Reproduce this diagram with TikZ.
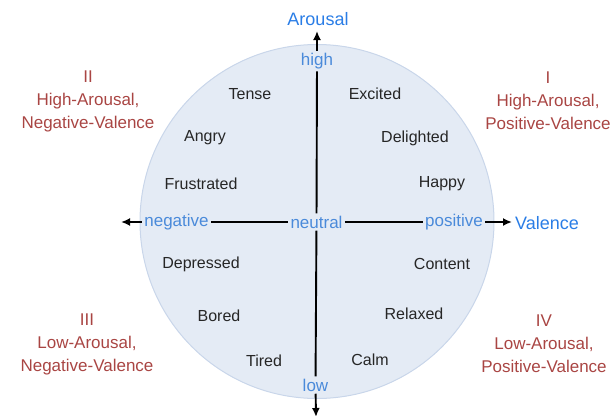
\documentclass[tikz,border=0pt]{standalone}
\usepackage{fontspec}
\setmainfont{Liberation Sans}
\usetikzlibrary{arrows.meta}
\usetikzlibrary{calc}
\tikzset{>=latex}
\definecolor{myblue}{HTML}{2A7DE6}
\definecolor{mylightblue}{HTML}{4A8ADA}
\definecolor{myred}{HTML}{A94543}
\definecolor{myfill}{HTML}{E4EBF5}
\definecolor{myedge}{HTML}{C9D6EA}
\colorlet{myword}{black!85}
\tikzstyle{myaxis}=[black,line width=1.9]
\tikzstyle{myarrow}=[myaxis,-{Latex[length=9,width=8]}]
\tikzstyle{myaxislabel}=[inner sep=0pt,font=\fontsize{18}{20}\selectfont,text=myblue]
\tikzstyle{mytick}=[inner sep=2.5pt,outer sep=0pt,font=\fontsize{17}{20}\selectfont,text=mylightblue]
\tikzstyle{myword}=[inner sep=1pt,font=\fontsize{16}{18}\selectfont,text=myword]
\tikzstyle{myquad}=[inner sep=1pt,align=center,font=\fontsize{17}{23}\selectfont,text=myred]

\begin{document}
\begin{tikzpicture}[x=1pt,y=-1pt]
  \useasboundingbox (0,0) rectangle (613,415);

  % circle
  \node[circle,draw=myedge,fill=myfill,line width=1,minimum size=354,inner sep=0pt] (C) at (317,221.5) {};

  % axis labels
  \node[myaxislabel,anchor=base] (arousal) at (318,25) {Arousal};
  \node[myaxislabel,anchor=west] (valence) at (515,223) {Valence};
  \coordinate (N) at (317,31);
  \coordinate (E) at (512,222);
  \coordinate (S) at (316,417);
  \coordinate (W) at (121,222);

  % ticks
  \node[mytick] (high) at (317,61) {high};
  \node[mytick] (low) at (315.5,385) {low};
  \node[mytick] (neutral) at (316.5,222) {neutral};
  \node[mytick] (negative) at (176.5,222) {negative};
  \node[mytick] (positive) at (454,222) {positive};

  % ARROWS
  \draw[myarrow] (high) -- (N);
  \draw[myaxis] (high) -- (neutral);
  \draw[myaxis] (neutral) -- (low);
  \draw[myarrow] (low) -- (S);
  \draw[myarrow] (negative) -- (W);
  \draw[myaxis] (negative) -- (neutral);
  \draw[myaxis] (neutral) -- (positive);
  \draw[myarrow] (positive) -- (E);

  % emotions
  \node[myword] (tense) at (250,94) {Tense};
  \node[myword] (excited) at (375,94) {Excited};
  \node[myword] (angry) at (205,138) {Angry};
  \node[myword] (delighted) at (415,138) {Delighted};
  \node[myword] (frustrated) at (201,184) {Frustrated};
  \node[myword] (happy) at (442,184) {Happy};
  \node[myword] (depressed) at (201,264) {Depressed};
  \node[myword] (content) at (442,264) {Content};
  \node[myword] (bored) at (219,316) {Bored};
  \node[myword] (relaxed) at (414,314) {Relaxed};
  \node[myword] (tired) at (264,361) {Tired};
  \node[myword] (calm) at (370,360) {Calm};

  % quadrants
  \node[myquad] (q2) at (88,101) {II\\High-Arousal,\\Negative-Valence};
  \node[myquad] (q1) at (548,101) {I\\High-Arousal,\\Positive-Valence};
  \node[myquad] (q3) at (87,344) {III\\Low-Arousal,\\Negative-Valence};
  \node[myquad] (q4) at (544,344) {IV\\Low-Arousal,\\Positive-Valence};
\end{tikzpicture}
\end{document}
